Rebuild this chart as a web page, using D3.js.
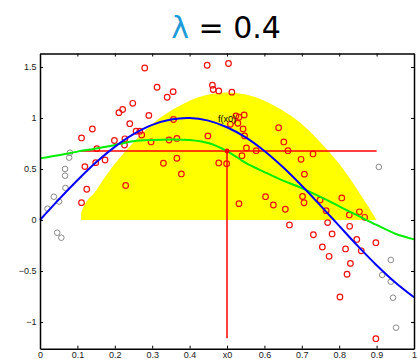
<!DOCTYPE html>
<html>
<head>
<meta charset="UTF-8">
<title>local fit</title>
<script src="https://d3js.org/d3.v7.min.js"></script>
<style>
  body { margin: 0; background: #fff; }
  .axis text { font-family: "Liberation Sans", Arial, sans-serif; font-size: 9px; fill: #222; }
  .axis path, .axis line { stroke: #000; }
  .axis path { stroke-width: 1.5; }
</style>
</head>
<body>
<svg width="418" height="359"></svg>
<script>
// data
let redX = [0.280,0.447,0.504,0.313,0.356,0.340,0.461,0.463,0.478,0.513,
            0.211,0.221,0.248,0.291,0.240,0.357,0.257,0.267,0.272,0.227,
            0.226,0.199,0.297,0.345,0.366,0.449,0.111,0.140,0.120,0.149,
            0.152,0.174,0.125,0.111,0.229,0.330,0.366,0.378,0.478,0.499,
            0.546,0.532,0.524,0.509,0.529,0.543,0.547,0.552,0.578,0.540,
            0.638,0.652,0.663,0.698,0.730,0.707,0.532,0.603,0.624,0.656,
            0.702,0.706,0.749,0.807,0.765,0.827,0.854,0.868,0.667,0.769,
            0.828,0.731,0.781,0.847,0.898,0.755,0.817,0.859,0.773,0.830,
            0.821,0.802,0.898];
let redY = [1.490,1.517,1.534,1.301,1.258,1.203,1.321,1.279,1.265,1.253,
            1.052,1.083,1.144,1.025,0.944,0.985,0.870,0.870,0.833,0.796,
            0.735,0.779,0.765,0.784,0.799,0.824,0.804,0.892,0.523,0.562,
            0.699,0.588,0.301,0.170,0.338,0.556,0.605,0.451,0.559,0.552,
            1.029,1.007,1.020,0.938,0.948,0.892,0.824,0.706,0.679,0.630,
            0.904,0.765,0.679,0.595,0.647,0.449,0.160,0.228,0.147,0.105,
            0.230,0.169,0.196,0.216,0.091,0.049,0.080,0.026,-0.049,-0.026,
            -0.062,-0.145,-0.137,-0.191,-0.223,-0.265,-0.284,-0.302,-0.356,-0.426,
            -0.532,-0.755,-1.164];

let grayX = [0.080,0.078,0.067,0.067,0.068,0.037,0.051,0.020,0.046,0.057,
             0.906,0.938,0.915,0.938,0.944,0.952];
let grayY = [0.660,0.611,0.500,0.434,0.314,0.228,0.181,0.111,-0.125,-0.174,
             0.520,-0.392,-0.539,-0.605,-0.762,-1.056];

let curveX = [0,0.05,0.1,0.15,0.2,0.25,0.3,0.35,0.4,0.45,0.5,
              0.55,0.6,0.65,0.7,0.75,0.8,0.85,0.9,0.95,1];
let trueY = [0,0.199,0.389,0.565,0.717,0.841,0.932,0.985,1.000,0.974,0.909,
             0.809,0.676,0.516,0.335,0.141,-0.058,-0.256,-0.443,-0.612,-0.757];
let fitY = [0.605,0.635,0.670,0.700,0.735,0.772,0.785,0.790,0.785,0.755,0.676,
            0.560,0.470,0.385,0.313,0.226,0.134,0.042,-0.049,-0.135,-0.190];

let kernelX = [0.11,0.11,0.15,0.2,0.25,0.3,0.35,0.4,0.45,0.5,
               0.55,0.6,0.65,0.7,0.75,0.8,0.85,0.9];
let kernelY = [0,0.07,0.29,0.55,0.76,0.94,1.07,1.17,1.23,1.25,
               1.23,1.17,1.07,0.94,0.76,0.55,0.29,0];

let x0 = 0.5, fx0 = 0.676;
let windowX = [0.11, 0.9];
let stemBottom = -1.16;

let xTicks = [0,0.1,0.2,0.3,0.4,0.5,0.6,0.7,0.8,0.9,1];
let xTickLabels = ["0","0.1","0.2","0.3","0.4","x0","0.6","0.7","0.8","0.9","1"];
let yTicks = [-1,-0.5,0,0.5,1,1.5];
let yTickLabels = ["\u22121","\u22120.5","0","0.5","1","1.5"];

let svg = d3.select("svg");
let plotLeft = 40, plotRight = 414, plotTop = 53.5, plotBottom = 348.7;

let x = d3.scaleLinear().domain([0, 1]).range([plotLeft, plotRight]);
let y = d3.scaleLinear().domain([-1.262, 1.632]).range([plotBottom, plotTop]);

// title
let title = svg.append("text")
  .attr("x", 226)
  .attr("y", 38)
  .attr("text-anchor", "middle")
  .style("font-family", "DejaVu Sans, sans-serif")
  .style("font-size", "30px");
title.append("tspan").attr("fill", "#1e9ad6").text("\u03bb");
title.append("tspan").attr("fill", "#000").text(" = 0.4");

// kernel weights
let kern = kernelX.map((d, i) => [d, kernelY[i]]);
svg.append("path")
  .datum(kern)
  .attr("fill", "#ffff00")
  .attr("d", d3.line().x(d => x(d[0])).y(d => y(d[1])).curve(d3.curveMonotoneX));

// points
svg.selectAll(".gray").data(grayX).enter().append("circle")
  .attr("cx", d => x(d))
  .attr("cy", (d, i) => y(grayY[i]))
  .attr("r", 2.8)
  .attr("fill", "none")
  .attr("stroke", "#8a8a8a")
  .attr("stroke-width", 1);

svg.selectAll(".red").data(redX).enter().append("circle")
  .attr("cx", d => x(d))
  .attr("cy", (d, i) => y(redY[i]))
  .attr("r", 2.8)
  .attr("fill", "none")
  .attr("stroke", "#ee1111")
  .attr("stroke-width", 1.2);

// red guide lines
svg.append("line")
  .attr("x1", x(windowX[0])).attr("x2", x(windowX[1]))
  .attr("y1", y(fx0)).attr("y2", y(fx0))
  .attr("stroke", "#ff0000").attr("stroke-width", 1.5);
svg.append("line")
  .attr("x1", x(x0)).attr("x2", x(x0))
  .attr("y1", y(fx0)).attr("y2", y(stemBottom))
  .attr("stroke", "#ff0000").attr("stroke-width", 1.5);

// curves
let line = d3.line().x((d, i) => x(curveX[i])).y(d => y(d)).curve(d3.curveCatmullRom);
svg.append("path").datum(fitY)
  .attr("fill", "none").attr("stroke", "#00ee00").attr("stroke-width", 2)
  .attr("d", line);
svg.append("path").datum(trueY)
  .attr("fill", "none").attr("stroke", "#0000ff").attr("stroke-width", 2)
  .attr("d", line);

svg.append("circle")
  .attr("cx", x(x0)).attr("cy", y(fx0)).attr("r", 2.5)
  .attr("fill", "#ff0000");

svg.append("text")
  .attr("x", x(0.476)).attr("y", y(0.96))
  .style("font-family", "Liberation Sans, Arial, sans-serif")
  .style("font-size", "9px")
  .attr("fill", "#000")
  .text("f(x0)");

// box axes, ticks inward
svg.append("g").attr("class", "axis")
  .attr("transform", "translate(0," + plotBottom + ")")
  .call(d3.axisBottom(x).tickValues(xTicks).tickFormat((d, i) => xTickLabels[i])
    .tickSize(-3).tickSizeOuter(0).tickPadding(3));
svg.append("g").attr("class", "axis")
  .attr("transform", "translate(0," + plotTop + ")")
  .call(d3.axisTop(x).tickValues(xTicks).tickFormat("")
    .tickSize(-3).tickSizeOuter(0));
svg.append("g").attr("class", "axis")
  .attr("transform", "translate(" + plotLeft + ",0)")
  .call(d3.axisLeft(y).tickValues(yTicks).tickFormat((d, i) => yTickLabels[i])
    .tickSize(-3).tickSizeOuter(0).tickPadding(3.5));
svg.append("g").attr("class", "axis")
  .attr("transform", "translate(" + plotRight + ",0)")
  .call(d3.axisRight(y).tickValues(yTicks).tickFormat("")
    .tickSize(-3).tickSizeOuter(0));
</script>
</body>
</html>
